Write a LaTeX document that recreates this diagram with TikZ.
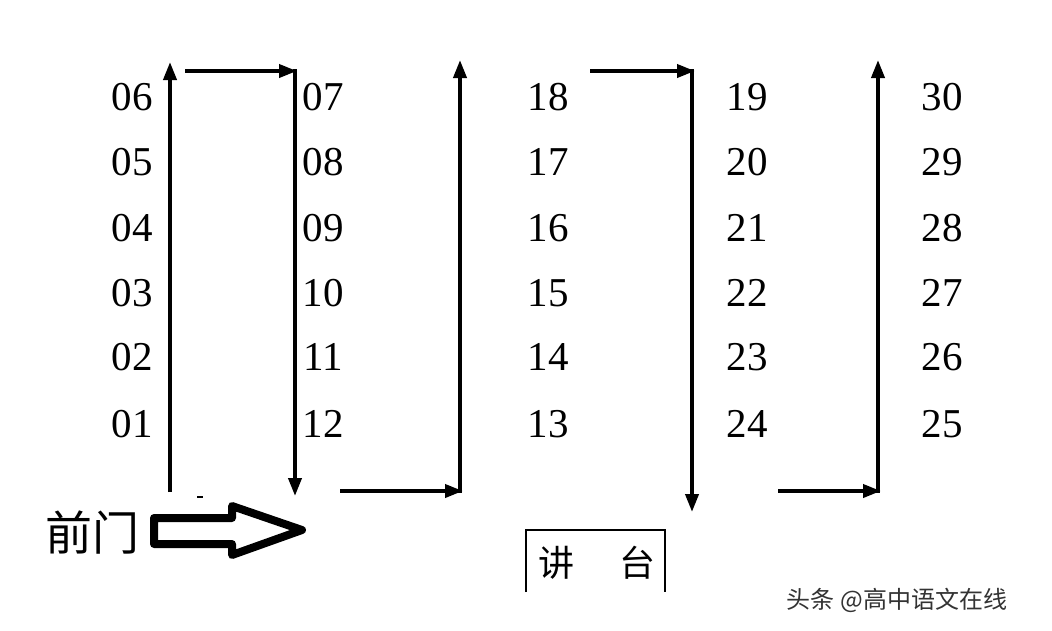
\documentclass[tikz,border=0pt]{standalone}
\usepackage{fontspec}
\setmainfont{Liberation Serif}
\newfontfamily\cjk{Noto Sans CJK SC}
\newfontfamily\cjkl{Noto Sans CJK SC Light}
\usetikzlibrary{arrows.meta}
\begin{document}
\begin{tikzpicture}[x=1pt,y=-1pt,
  num/.style={font=\fontsize{41}{41}\selectfont,inner sep=0pt},
  flow/.style={line width=3.8pt,-{Triangle[length=18pt,width=13pt]}}]
\useasboundingbox[fill=white] (0,0) rectangle (1052,630);
\foreach \col/\x in {0/132,1/323,2/548,3/747,4/942}{
  \foreach \r/\y in {0/424,1/357,2/293,3/228,4/162,5/97}{
    \pgfmathtruncatemacro{\n}{\col==0 ? \r+1 : (\col==1 ? 12-\r : (\col==2 ? \r+13 : (\col==3 ? 24-\r : \r+25)))}
    \node[num] (n\n) at (\x,\y) {\ifnum\n<10 0\fi\n};
  }}
\coordinate (a0) at (170,492); \coordinate (a1) at (170,62);
\coordinate (b0) at (185,71); \coordinate (b1) at (297,71); \coordinate (b2) at (295,69); \coordinate (b3) at (295,496);
\coordinate (c0) at (340,491); \coordinate (c1) at (463,491); \coordinate (c2) at (460,493); \coordinate (c3) at (460,60);
\coordinate (d0) at (590,71); \coordinate (d1) at (695,71); \coordinate (d2) at (692,69); \coordinate (d3) at (692,512);
\coordinate (e0) at (778,491); \coordinate (e1) at (881,491); \coordinate (e2) at (878,493); \coordinate (e3) at (878,60);
\draw[flow] (a0) -- (a1);
\draw[flow] (b0) -- (b1);
\draw[flow] (b2) -- (b3);
\draw[flow] (c0) -- (c1);
\draw[flow] (c2) -- (c3);
\draw[flow] (d0) -- (d1);
\draw[flow] (d2) -- (d3);
\draw[flow] (e0) -- (e1);
\draw[flow] (e2) -- (e3);
\draw[line width=1.5pt] (197,497) -- (203,497);
\node[font=\cjk\fontsize{47}{47}\selectfont,inner sep=0pt] (door) at (92,533) {前门};
\draw[line width=8pt,line join=round] (154,518) -- (232,518) -- (232,506) -- (302,530) -- (232,555) -- (232,544) -- (154,544) -- cycle;
\draw[line width=1.3pt] (526,592) -- (526,530) -- (665,530) -- (665,592);
\node[font=\cjk\fontsize{36}{36}\selectfont,inner sep=0pt] (jiang) at (556,563) {讲};
\node[font=\cjk\fontsize{36}{36}\selectfont,inner sep=0pt] (tai) at (637,563) {台};
\node[font=\cjk\fontsize{24}{24}\selectfont,text=black!80,inner sep=0pt] (wm) at (897,600) {头条 @高中语文在线};
\end{tikzpicture}
\end{document}
